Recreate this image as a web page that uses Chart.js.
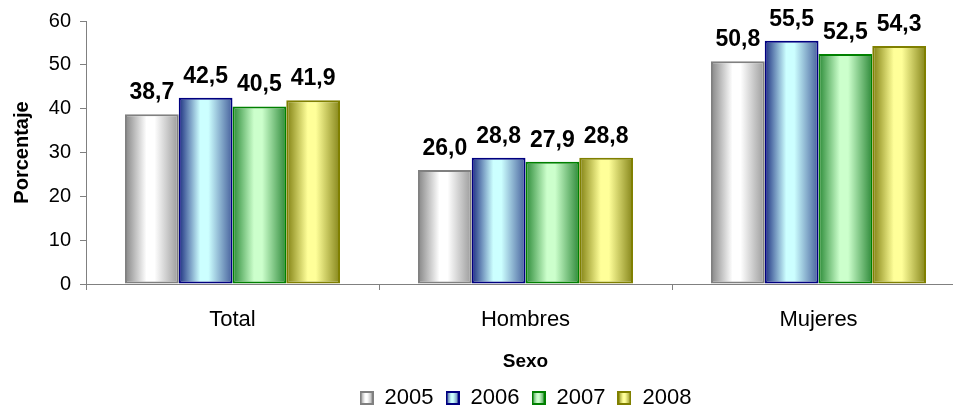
<!DOCTYPE html>
<html>
<head>
<meta charset="utf-8">
<script src="https://cdn.jsdelivr.net/npm/chart.js@4.4.1/dist/chart.umd.min.js"></script>
<style>
  html, body { margin: 0; padding: 0; background: #fff; overflow: hidden; }
  #wrap { width: 953px; height: 410px; overflow: hidden; }
</style>
</head>
<body>
<div id="wrap"><canvas id="chart" width="975" height="410" style="width:975px;height:410px"></canvas></div>
<script>
// datos del gráfico
const categorias = ['Total', 'Hombres', 'Mujeres'];
const anios = ['2005', '2006', '2007', '2008'];
const valores2005 = [38.7, 26.0, 50.8];
const valores2006 = [42.5, 28.8, 55.5];
const valores2007 = [40.5, 27.9, 52.5];
const valores2008 = [41.9, 28.8, 54.3];
const ticksY = [0, 10, 20, 30, 40, 50, 60];

// colores: claro (centro), oscuro (bordes del cilindro), borde
const estilos = [
  { claro: '#ffffff', izq: '#858585', der: '#9a9a9a', borde: '#808080' },
  { claro: '#ccffff', izq: '#1c2f80', der: '#46609c', borde: '#000080' },
  { claro: '#ccffcc', izq: '#2a8a36', der: '#2f8a3a', borde: '#008000' },
  { claro: '#ffff99', izq: '#7f7f10', der: '#85851a', borde: '#808000' },
];

const fuente = "'Liberation Sans', Arial, sans-serif";
const bottomPad = -9;
const legendHeight = 44;

function degradado(ctx, x0, x1, e) {
  const g = ctx.createLinearGradient(x0, 0, x1, 0);
  g.addColorStop(0, e.izq);
  g.addColorStop(0.4, e.claro);
  g.addColorStop(0.55, e.claro);
  g.addColorStop(1, e.der);
  return g;
}

// cuadritos de la leyenda con el mismo degradado
const iconos = estilos.map(e => {
  const c = document.createElement('canvas');
  c.width = 14; c.height = 14;
  const cx = c.getContext('2d');
  cx.fillStyle = degradado(cx, 0, 14, e);
  cx.fillRect(0, 0, 14, 14);
  cx.strokeStyle = e.borde;
  cx.lineWidth = 2;
  cx.strokeRect(1, 1, 12, 12);
  return c;
});

// degradado horizontal en cada barra
const cilindro = {
  id: 'cilindro',
  beforeDatasetsDraw(chart) {
    const ctx = chart.ctx;
    chart.data.datasets.forEach((ds, i) => {
      const meta = chart.getDatasetMeta(i);
      meta.data.forEach(el => {
        const { x, width } = el.getProps(['x', 'width'], true);
        el.options = Object.assign({}, el.options, {
          backgroundColor: degradado(ctx, x - width / 2, x + width / 2, estilos[i])
        });
      });
    });
  }
};

// etiquetas de valor encima de las barras
const etiquetas = {
  id: 'etiquetas',
  afterDatasetsDraw(chart) {
    const ctx = chart.ctx;
    ctx.save();
    ctx.font = 'bold 23px ' + fuente;
    ctx.fillStyle = '#000';
    ctx.textAlign = 'center';
    ctx.textBaseline = 'alphabetic';
    chart.data.datasets.forEach((ds, i) => {
      const meta = chart.getDatasetMeta(i);
      meta.data.forEach((el, j) => {
        const txt = ds.data[j].toFixed(1).replace('.', ',');
        ctx.fillText(txt, el.x, el.y - 15);
      });
    });
    ctx.restore();
  }
};

const series = [valores2005, valores2006, valores2007, valores2008];

new Chart(document.getElementById('chart'), {
  type: 'bar',
  data: {
    labels: categorias,
    datasets: series.map((vals, i) => ({
      label: anios[i],
      data: vals,
      backgroundColor: estilos[i].claro,
      borderColor: estilos[i].borde,
      borderWidth: 2,
      borderSkipped: false,
      categoryPercentage: 0.734,
      barPercentage: 1.0,
    })),
  },
  options: {
    responsive: false,
    animation: false,
    devicePixelRatio: 1,
    layout: { padding: { top: 21, right: 10, left: 0, bottom: bottomPad } },
    plugins: {
      tooltip: { enabled: false },
      legend: {
        position: 'bottom',
        fullSize: false,
        labels: {
          color: '#000',
          font: { family: fuente, size: 22 },
          usePointStyle: true,
          boxWidth: 14,
          boxHeight: 14,
          padding: 12,
          generateLabels(chart) {
            const items = Chart.defaults.plugins.legend.labels.generateLabels(chart);
            items.forEach((it, i) => { it.pointStyle = iconos[i]; });
            return items;
          },
        },
      },
    },
    scales: {
      x: {
        grid: { display: true, drawOnChartArea: false, tickLength: 6, color: '#808080' },
        border: { color: '#808080', width: 1 },
        ticks: { color: '#000', font: { family: fuente, size: 22 }, padding: 17 },
        title: { display: true, text: 'Sexo', color: '#000', font: { family: fuente, size: 19, weight: 'bold' }, padding: { top: 4, bottom: 2 } },
        afterFit(scale) { scale.height = 410 - bottomPad - 284 - legendHeight; },
      },
      y: {
        min: 0,
        max: 60,
        afterBuildTicks(scale) { scale.ticks = ticksY.map(v => ({ value: v })); },
        grid: { display: true, drawOnChartArea: false, tickLength: 6, color: '#808080' },
        border: { color: '#808080', width: 1 },
        ticks: { color: '#000', font: { family: fuente, size: 20 }, padding: 9 },
        title: { display: true, text: 'Porcentaje', color: '#000', font: { family: fuente, size: 20, weight: 'bold' }, padding: { top: 10, bottom: 0 } },
        afterFit(scale) { scale.width = 86; },
      },
    },
  },
  plugins: [cilindro, etiquetas],
});
</script>
</body>
</html>
